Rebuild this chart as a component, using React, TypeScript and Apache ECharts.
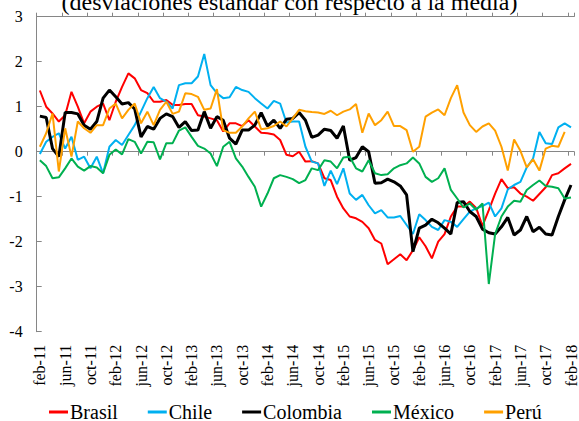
import * as echarts from "echarts";
import { useEffect, useRef } from "react";

// monthly categories feb-11 .. feb-18
const monthNames = ["ene", "feb", "mar", "abr", "may", "jun", "jul", "ago", "sep", "oct", "nov", "dic"];
const categories: string[] = [];
for (let k = 0; k < 85; k++) {
  const m = (1 + k) % 12;
  const y = 11 + Math.floor((1 + k) / 12);
  categories.push(`${monthNames[m]}-${y}`);
}

const brasil = [
  1.36, 1.0, 0.85, 0.67, 0.81, 1.33, 1.0, 0.63, 0.89, 1.0,
  1.07, 0.7, 1.11, 1.44, 1.74, 1.63, 1.37, 1.3, 1.11, 1.11,
  1.15, 1.04, 1.04, 1.06, 1.06, 0.81, 0.78, 0.74, 0.7, 0.45,
  0.63, 0.63, 0.57, 0.7, 0.56, 0.42, 0.41, 0.38, 0.26, -0.07,
  -0.1, 0.0, -0.22, -0.21, -0.26, -0.59, -0.63, -1.0, -1.26, -1.44,
  -1.48, -1.56, -1.7, -1.96, -2.04, -2.5, -2.39, -2.28, -2.41, -2.19,
  -1.9, -2.1, -2.37, -2.0, -1.83, -1.44, -1.22, -1.22, -1.11, -1.25,
  -1.65, -1.3, -0.93, -0.61, -0.81, -0.79, -0.93, -1.0, -1.09, -0.94,
  -0.79, -0.52, -0.48, -0.37, -0.27,
];

const chile = [
  -0.05, 0.22, 0.33, 0.41, 0.07, 0.33, -0.18, -0.11, -0.37, -0.11,
  -0.48, 0.11, 0.26, 0.15, 0.37, 0.59, 0.89, 1.19, 1.44, 1.19,
  1.11, 0.96, 1.48, 1.52, 1.52, 1.67, 2.17, 1.48, 1.3, 1.19,
  1.21, 1.44, 1.37, 1.33, 1.19, 1.07, 0.96, 1.13, 1.07, 0.65,
  0.67, 0.67, 0.11, -0.22, -0.26, -0.76, -0.42, -0.72, -0.37, -0.93,
  -1.07, -0.96, -1.19, -1.37, -1.3, -1.46, -1.46, -1.43, -1.63, -1.83,
  -1.39, -1.52, -1.67, -1.74, -1.52, -1.56, -1.67, -1.5, -1.33, -1.26,
  -1.21, -1.13, -1.44, -1.26, -0.84, -0.74, -0.67, -0.35, -0.15, 0.44,
  0.19, 0.17, 0.54, 0.63, 0.54,
];

const colombia = [
  0.79, 0.76, 0.07, -0.11, 0.87, 0.87, 0.84, 0.59, 0.5, 0.67,
  1.19, 1.37, 1.22, 1.06, 1.09, 0.95, 0.33, 0.56, 0.5, 0.74,
  0.84, 0.78, 0.54, 0.67, 0.47, 0.48, 0.89, 0.52, 0.78, 0.7,
  0.3, 0.17, 0.48, 0.48, 0.59, 0.87, 0.57, 0.7, 0.52, 0.72,
  0.74, 0.87, 0.7, 0.32, 0.37, 0.5, 0.47, 0.3, 0.57, -0.19,
  -0.13, 0.11, 0.0, -0.7, -0.69, -0.61, -0.67, -0.76, -0.96, -2.22,
  -1.7, -1.63, -1.5, -1.58, -1.7, -1.83, -1.13, -1.11, -1.33, -1.44,
  -1.72, -1.8, -1.83, -1.67, -1.46, -1.85, -1.74, -1.44, -1.78, -1.68,
  -1.83, -1.85, -1.44, -1.07, -0.74,
];

const mexico = [
  -0.19, -0.32, -0.59, -0.57, -0.37, -0.15, -0.33, -0.42, -0.32, -0.35,
  -0.48, -0.07, 0.05, -0.06, 0.28, 0.22, -0.04, 0.22, 0.21, -0.17,
  0.19, 0.19, 0.47, 0.54, 0.33, 0.13, 0.07, -0.04, -0.32, 0.11,
  0.22, -0.15, -0.33, -0.56, -0.78, -1.22, -0.93, -0.59, -0.52, -0.56,
  -0.61, -0.7, -0.63, -0.37, -0.41, -0.19, -0.22, -0.37, -0.13, -0.11,
  -0.37, -0.44, -0.19, -0.48, -0.52, -0.5, -0.37, -0.3, -0.26, -0.13,
  -0.26, -0.56, -0.67, -0.59, -0.37, -0.85, -1.04, -1.24, -1.15, -1.29,
  -1.15, -2.94, -1.83, -1.44, -1.22, -1.09, -1.11, -0.85, -0.74, -0.64,
  -0.76, -0.78, -0.81, -1.04, -1.02,
];

const peru = [
  0.11, 0.41, 0.85, -0.44, 0.52, -0.11, 0.67, 0.52, 0.42, 0.59,
  0.59, 0.96, 1.07, 0.74, 0.93, 1.07, 0.63, 0.89, 0.59, 0.93,
  1.11, 0.84, 0.89, 1.3, 1.28, 1.22, 0.93, 0.96, 1.39, 0.48,
  0.42, 0.42, 0.56, 0.74, 0.89, 0.5, 0.52, 0.57, 0.67, 0.56,
  0.74, 0.93, 0.9, 0.88, 0.87, 0.84, 0.91, 0.81, 0.89, 0.94,
  1.06, 0.42, 0.85, 0.59, 0.7, 0.89, 0.57, 0.57, 0.48, 0.0,
  0.11, 0.78, 0.87, 0.94, 0.81, 1.19, 1.48, 0.87, 0.59, 0.44,
  0.56, 0.63, 0.47, 0.11, -0.42, 0.27, 0.02, -0.35, -0.17, -0.42,
  0.07, 0.13, 0.11, 0.44,
];

const seriesDefs = [
  { name: "Brasil", data: brasil, color: "#FF0000", width: 2 },
  { name: "Chile", data: chile, color: "#00B0F0", width: 2 },
  { name: "Colombia", data: colombia, color: "#000000", width: 3 },
  { name: "México", data: mexico, color: "#00B050", width: 2 },
  { name: "Perú", data: peru, color: "#FFA000", width: 2 },
];

const FONT = "'Liberation Serif', 'Times New Roman', serif";
const AXIS_GRAY = "#868686";

export default function App() {
  const chartRef = useRef<HTMLDivElement | null>(null);

  useEffect(() => {
    if (!chartRef.current) return;
    const chart = echarts.init(chartRef.current, undefined, { renderer: "svg" });

    const zeroAxis = (position: "top" | "bottom") => ({
      type: "category",
      data: categories,
      position,
      boundaryGap: true,
      axisLine: { show: true, onZero: true, lineStyle: { color: AXIS_GRAY, width: 1 } },
      axisTick: { show: true, interval: 3, length: 4, lineStyle: { color: AXIS_GRAY } },
      axisLabel: { show: false },
      splitLine: { show: false },
    });

    chart.setOption({
      animation: false,
      title: {
        text: "(desviaciones estándar con respecto a la media)",
        left: "center",
        top: -15,
        textStyle: { fontFamily: FONT, fontSize: 24, fontWeight: "normal", color: "#000" },
      },
      grid: { left: 36.7, right: 4.7, top: 16.7, height: 315, containLabel: false },
      legend: {
        left: 44,
        top: 397,
        itemWidth: 19,
        itemHeight: 3,
        itemGap: 30,
        icon: "rect",
        textStyle: { fontFamily: FONT, fontSize: 20, color: "#000", padding: [0, 0, 0, -3] },
        data: seriesDefs.map((s) => ({ name: s.name, itemStyle: { color: s.color } })),
      },
      xAxis: [
        zeroAxis("bottom"),
        zeroAxis("top"),
        {
          type: "category",
          data: categories,
          position: "bottom",
          boundaryGap: true,
          axisLine: { show: false, onZero: false },
          axisTick: { show: false },
          axisLabel: {
            interval: 3,
            rotate: 90,
            margin: 13,
            fontFamily: FONT,
            fontSize: 16,
            color: "#000",
          },
          splitLine: { show: false },
        },
      ],
      yAxis: {
        type: "value",
        min: -4,
        max: 3,
        interval: 1,
        axisLine: { show: true, lineStyle: { color: AXIS_GRAY, width: 1 } },
        axisTick: { show: true, inside: true, length: 5, lineStyle: { color: AXIS_GRAY } },
        axisLabel: { margin: 14, fontFamily: FONT, fontSize: 16, color: "#000" },
        splitLine: { show: false },
      },
      series: seriesDefs.map((s) => ({
        name: s.name,
        type: "line",
        xAxisIndex: 0,
        data: s.data,
        symbol: "none",
        color: s.color,
        lineStyle: { color: s.color, width: s.width },
        silent: true,
      })),
    });

    return () => {
      chart.dispose();
    };
  }, []);

  return (
    <div
      ref={chartRef}
      style={{ position: "fixed", left: 0, top: 0, width: 579, height: 421, background: "#fff" }}
    />
  );
}
